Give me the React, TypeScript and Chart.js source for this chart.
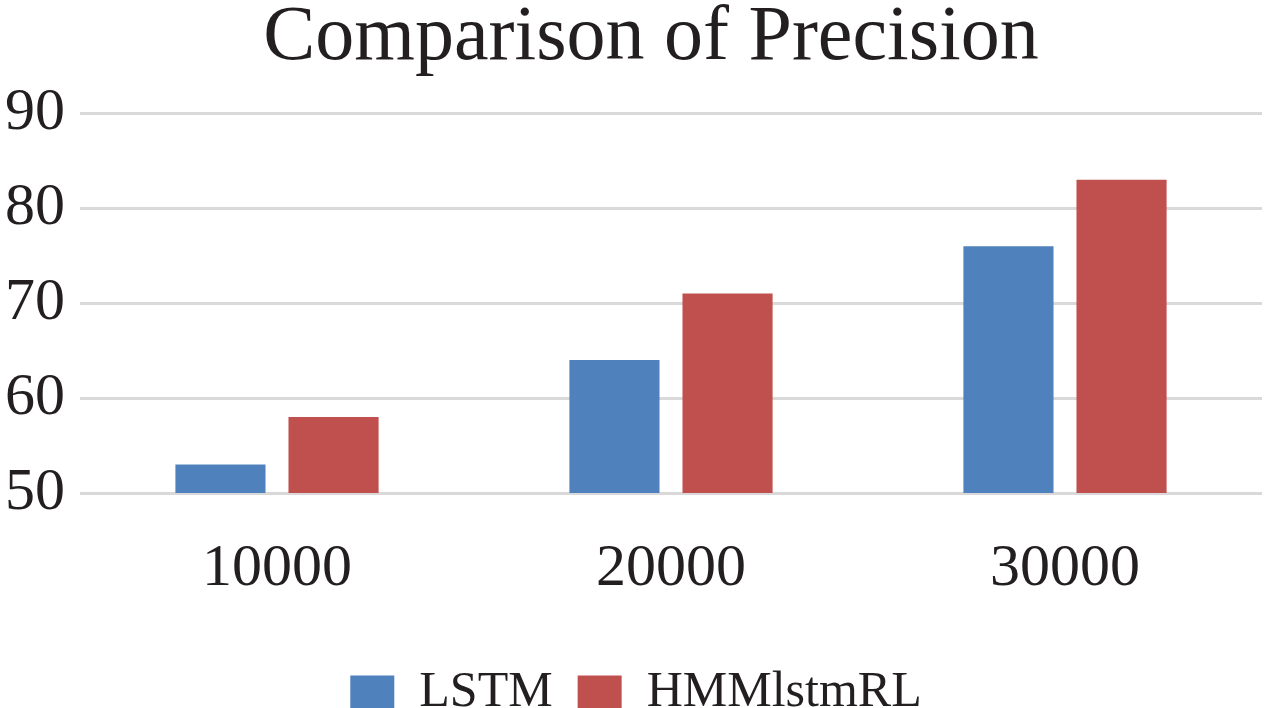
import React, { useEffect, useRef } from "react";
import { Chart, registerables } from "chart.js";

Chart.register(...registerables);

const categories = ["10000", "20000", "30000"];
const lstmValues = [53, 64, 76];
const hmmValues = [58, 71, 83];
const yTicks = [50, 60, 70, 80, 90];
const seriesNames = ["LSTM", "HMMlstmRL"];
const titleText = "Comparison of Precision";

const FONT = "'Liberation Serif', 'Times New Roman', serif";
const TEXT = "#231f20";

const nudgePlugin = {
  id: "nudge",
  afterLayout(chart: any) {
    const t = chart.titleBlock;
    if (t) {
      t.left += 20;
      t.right += 20;
    }
    const l = chart.legend;
    if (l) {
      l.left += 5;
      l.right += 5;
      l.top += 20;
      l.bottom += 20;
    }
  },
};

export default function App() {
  const ref = useRef<HTMLCanvasElement | null>(null);
  useEffect(() => {
    if (!ref.current) return;
    const chart = new Chart(ref.current, {
      type: "bar",
      data: {
        labels: categories,
        datasets: [
          {
            label: seriesNames[0],
            data: lstmValues,
            backgroundColor: "#4f81bd",
            categoryPercentage: 0.574,
            barPercentage: 0.797,
          },
          {
            label: seriesNames[1],
            data: hmmValues,
            backgroundColor: "#c0504d",
            categoryPercentage: 0.574,
            barPercentage: 0.797,
          },
        ],
      },
      plugins: [nudgePlugin],
      options: {
        animation: false,
        responsive: true,
        maintainAspectRatio: false,
        layout: { padding: { left: 0, right: 10, top: 0, bottom: 0 } },
        plugins: {
          title: {
            display: true,
            text: titleText,
            color: TEXT,
            font: { family: FONT, size: 78, weight: "normal", lineHeight: 0.9 },
            padding: { top: 3, bottom: 40 },
          },
          legend: {
            position: "bottom",
            labels: {
              color: TEXT,
              font: { family: FONT, size: 50 },
              boxWidth: 44,
              boxHeight: 35,
              padding: 25,
            },
          },
          tooltip: { enabled: false },
        },
        scales: {
          x: {
            grid: { display: false, drawTicks: false },
            border: { display: false },
            ticks: { color: TEXT, font: { family: FONT, size: 60 }, padding: 40 },
            afterFit: (s: any) => {
              s.height = 130;
            },
          },
          y: {
            min: 50,
            max: 90,
            afterBuildTicks: (s: any) => {
              s.ticks = yTicks.map((v) => ({ value: v }));
            },
            grid: { color: "#d9d9d9", lineWidth: 3, drawTicks: false },
            border: { display: false },
            ticks: { color: TEXT, font: { family: FONT, size: 60 }, padding: 15 },
            afterFit: (s: any) => {
              s.width = 80;
            },
          },
        },
      },
    });
    return () => chart.destroy();
  }, []);
  return (
    <div style={{ position: "absolute", left: 0, top: 0, width: 1272, height: 708, background: "#fff" }}>
      <canvas ref={ref} />
    </div>
  );
}
